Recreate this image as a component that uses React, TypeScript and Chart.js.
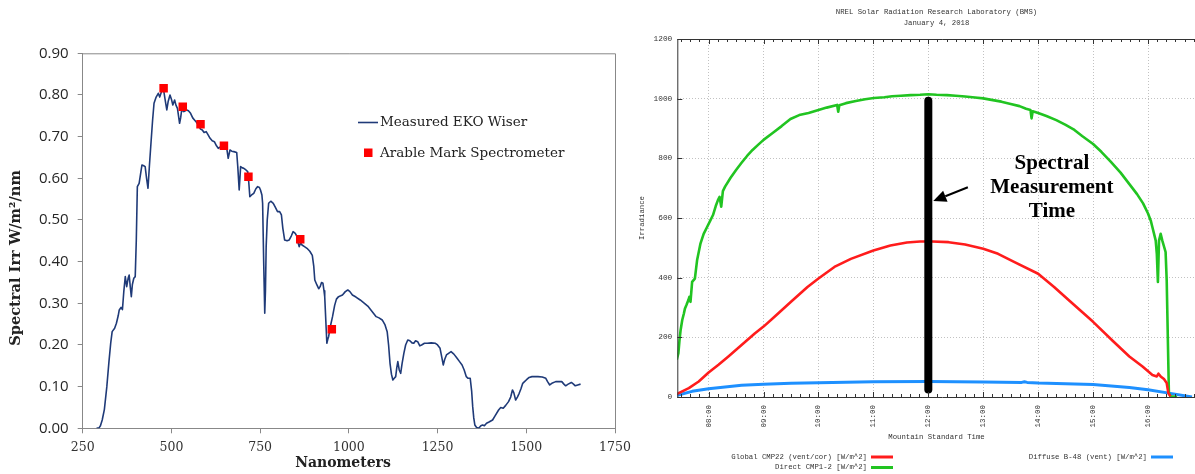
import React, { useEffect, useRef } from "react";
import { Chart, registerables } from "chart.js";

Chart.register(...registerables);

// ---------------- Left chart: spectral irradiance ----------------
const wiserNm = [
  289, 296, 300, 305, 311, 318, 324, 329, 333, 340, 345, 350, 353, 358, 362, 366, 370, 374, 378, 381,
  384, 387, 390, 394, 398, 401, 404, 409, 413, 417, 422, 426, 430, 434, 438, 443, 447, 451, 457, 463,
  467, 472, 478, 482, 487, 491, 496, 500, 504, 509, 513, 517, 520, 523, 526, 529, 535, 543, 548, 554,
  560, 565, 570, 576, 582, 587, 592, 598, 603, 609, 615, 621, 627, 632, 638, 643, 648, 652, 656, 660,
  665, 670, 676, 684, 687, 691, 695, 700, 704, 710, 715, 718, 721, 726, 732, 738, 743, 748, 751, 755,
  757, 760, 763, 765, 767, 770, 774, 780, 787, 793, 799, 805, 810, 814, 819, 826, 832, 838, 843, 849,
  854, 857, 860, 864, 868, 875, 882, 890, 897, 901, 904, 907, 910, 915, 919, 923, 927, 930, 932, 935,
  938, 941, 943, 948, 954, 960, 965, 971, 977, 982, 990, 997, 1003, 1010, 1020, 1032, 1044, 1055, 1066, 1077,
  1085, 1094, 1102, 1108, 1112, 1116, 1120, 1124, 1128, 1132, 1135, 1138, 1142, 1146, 1150, 1155, 1160, 1166, 1172, 1178,
  1183, 1188, 1194, 1200, 1205, 1213, 1221, 1232, 1244, 1250, 1257, 1262, 1266, 1270, 1275, 1281, 1288, 1296, 1305, 1312,
  1319, 1325, 1331, 1336, 1342, 1346, 1349, 1352, 1355, 1360, 1366, 1372, 1377, 1382, 1388, 1395, 1405, 1412, 1422, 1428,
  1435, 1442, 1450, 1456, 1461, 1465, 1470, 1475, 1480, 1485, 1490, 1495, 1500, 1508, 1516, 1525, 1533, 1545, 1555, 1560,
  1566, 1572, 1583, 1592, 1600, 1606, 1611, 1618, 1627, 1633, 1638, 1645, 1653,
];
const wiserIrr = [
  0, 0.001, 0.006, 0.02, 0.045, 0.1, 0.16, 0.205, 0.232, 0.24, 0.252, 0.27, 0.284, 0.29, 0.285, 0.33, 0.364, 0.34, 0.36, 0.368,
  0.34, 0.316, 0.345, 0.36, 0.364, 0.45, 0.58, 0.588, 0.61, 0.632, 0.63, 0.628, 0.6, 0.576, 0.63, 0.692, 0.74, 0.78, 0.795, 0.804,
  0.795, 0.808, 0.812, 0.79, 0.764, 0.785, 0.8, 0.79, 0.776, 0.788, 0.775, 0.768, 0.75, 0.732, 0.745, 0.764, 0.76, 0.764, 0.762, 0.756,
  0.745, 0.74, 0.735, 0.728, 0.718, 0.716, 0.71, 0.712, 0.705, 0.696, 0.69, 0.688, 0.678, 0.672, 0.675, 0.672, 0.678, 0.68, 0.672, 0.648,
  0.668, 0.665, 0.664, 0.662, 0.628, 0.572, 0.628, 0.625, 0.624, 0.62, 0.616, 0.59, 0.556, 0.56, 0.564, 0.575, 0.58, 0.578, 0.572, 0.56,
  0.54, 0.4, 0.276, 0.33, 0.436, 0.5, 0.54, 0.545, 0.54, 0.53, 0.52, 0.52, 0.512, 0.48, 0.452, 0.45, 0.452, 0.462, 0.472, 0.468,
  0.46, 0.445, 0.436, 0.445, 0.44, 0.436, 0.432, 0.425, 0.415, 0.39, 0.356, 0.35, 0.344, 0.335, 0.34, 0.35, 0.348, 0.33, 0.316, 0.26,
  0.204, 0.215, 0.22, 0.245, 0.268, 0.295, 0.31, 0.316, 0.318, 0.32, 0.328, 0.332, 0.328, 0.32, 0.315, 0.308, 0.3, 0.292, 0.28, 0.268,
  0.265, 0.26, 0.248, 0.232, 0.2, 0.156, 0.13, 0.116, 0.12, 0.124, 0.145, 0.16, 0.14, 0.132, 0.155, 0.18, 0.2, 0.212, 0.21, 0.205,
  0.204, 0.21, 0.208, 0.198, 0.2, 0.204, 0.204, 0.205, 0.204, 0.2, 0.192, 0.17, 0.152, 0.165, 0.176, 0.18, 0.184, 0.178, 0.168, 0.16,
  0.152, 0.14, 0.124, 0.12, 0.12, 0.09, 0.052, 0.025, 0.008, 0.002, 0, 0.006, 0.008, 0.006, 0.012, 0.015, 0.02, 0.03, 0.044, 0.05,
  0.048, 0.055, 0.064, 0.075, 0.092, 0.085, 0.068, 0.075, 0.084, 0.095, 0.108, 0.112, 0.116, 0.122, 0.124, 0.124, 0.124, 0.123, 0.12, 0.112,
  0.104, 0.108, 0.112, 0.112, 0.112, 0.106, 0.102, 0.106, 0.11, 0.106, 0.102, 0.104, 0.106,
];
const arableNm = [478, 532, 582, 648, 717, 863, 952];
const arableIrr = [0.816, 0.772, 0.73, 0.678, 0.604, 0.454, 0.238];
const nmTicks = [250, 500, 750, 1000, 1250, 1500, 1750];
const irrTicks = [0, 0.1, 0.2, 0.3, 0.4, 0.5, 0.6, 0.7, 0.8, 0.9];
const leftSeriesNames = ["Measured EKO Wiser", "Arable Mark Spectrometer"];
const leftXTitle = "Nanometers";
const leftYTitle = "Spectral Irr W/m\u00b2/nm";

// ---------------- Right chart: irradiance over the day ----------------
const directHours = [
  7.4, 7.42, 7.45, 7.47, 7.49, 7.52, 7.55, 7.57, 7.6, 7.63, 7.65, 7.67, 7.7, 7.75, 7.79, 7.85, 7.91, 7.97, 8.03, 8.08,
  8.13, 8.17, 8.2, 8.23, 8.26, 8.3, 8.4, 8.5, 8.6, 8.7, 8.8, 8.9, 9.0, 9.16, 9.33, 9.49, 9.65, 9.82, 10.0, 10.15,
  10.34, 10.36, 10.38, 10.5, 10.68, 10.85, 11.01, 11.2, 11.34, 11.5, 11.68, 11.85, 12.0, 12.15, 12.34, 12.5, 12.67, 12.85, 13.0, 13.15,
  13.33, 13.5, 13.66, 13.78, 13.86, 13.88, 13.9, 14.0, 14.15, 14.33, 14.5, 14.66, 14.8, 15.0, 15.15, 15.32, 15.5, 15.65, 15.8, 15.91,
  16.0, 16.05, 16.08, 16.11, 16.14, 16.16, 16.18, 16.2, 16.23, 16.26, 16.32, 16.34, 16.36, 16.38, 16.41, 16.53,
];
const directWm2 = [
  119, 125, 147, 190, 224, 258, 280, 297, 310, 324, 336, 319, 386, 397, 458, 513, 547, 569, 591, 610,
  640, 660, 671, 638, 690, 705, 735, 761, 785, 808, 828, 845, 862, 884, 908, 932, 945, 952, 962, 970,
  979, 956, 978, 985, 992, 998, 1002, 1005, 1008, 1010, 1012, 1013, 1015, 1013, 1012, 1010, 1007, 1004, 1001, 996,
  990, 982, 975, 966, 962, 934, 958, 952, 942, 928, 912, 895, 875, 848, 822, 789, 752, 716, 680, 649,
  615, 591, 569, 547, 524, 480, 386, 524, 547, 524, 486, 391, 202, 13, 2, 0,
];
const globalHours = [
  7.4, 7.43, 7.64, 7.82, 8.0, 8.18, 8.36, 8.6, 8.84, 9.0, 9.2, 9.5, 9.8, 10.0, 10.29, 10.59, 11.0, 11.31, 11.61, 11.85,
  12.07, 12.37, 12.67, 13.0, 13.27, 13.57, 14.0, 14.29, 14.59, 15.0, 15.37, 15.66, 15.9, 16.08, 16.16, 16.19, 16.23, 16.29, 16.34, 16.37,
  16.41,
];
const globalWm2 = [
  8, 11, 30, 52, 82, 108, 136, 174, 213, 236, 269, 319, 369, 397, 436, 463, 491, 508, 518, 521,
  521, 519, 511, 497, 480, 452, 413, 369, 319, 252, 186, 136, 102, 74, 69, 78, 69, 60, 47, 13,
  2,
];
const diffuseHours = [7.4, 7.43, 7.7, 8.0, 8.6, 9.0, 9.5, 10.0, 11.0, 12.0, 13.0, 13.7, 13.75, 13.8, 14.0, 15.0, 15.66, 16.0, 16.38, 16.8];
const diffuseWm2 = [5, 6, 19, 28, 39, 43, 46, 48, 51, 52, 50, 49, 51, 49, 47, 42, 32, 24, 13, 0];
const measurementHours = [12, 12];
const measurementWm2 = [25, 993];
const hourTicks = [8, 9, 10, 11, 12, 13, 14, 15, 16, 17];
const irradianceTicks = [0, 200, 400, 600, 800, 1000, 1200];
const rightSeriesNames = [
  "Global CMP22 (vent/cor) [W/m^2]",
  "Direct CMP1-2 [W/m^2]",
  "Diffuse B-48 (vent) [W/m^2]",
];
const rightTitle = ["NREL Solar Radiation Research Laboratory (BMS)", "January 4, 2018"];
const rightXTitle = "Mountain Standard Time";
const rightYTitle = "Irradiance";
const annotationLines = ["Spectral", "Measurement", "Time"];

const MONO = "'Liberation Mono', 'DejaVu Sans Mono', monospace";
const RED = "#ff1c1c";
const GREEN = "#21c421";
const BLUE = "#1e90ff";
const NAVY = "#1f3a78";
const AXIS_GRAY = "#888888";

function pairs(xs: number[], ys: number[]) {
  return xs.map((x, i) => ({ x, y: ys[i] }));
}

const leftDecor = {
  id: "leftDecor",
  afterDraw(chart: any) {
    const { ctx, chartArea: a } = chart;
    ctx.save();
    // frame top/right
    ctx.strokeStyle = AXIS_GRAY;
    ctx.lineWidth = 1;
    ctx.beginPath();
    ctx.moveTo(a.left, a.top + 0.5);
    ctx.lineTo(a.right + 0.5, a.top + 0.5);
    ctx.lineTo(a.right + 0.5, a.bottom);
    ctx.stroke();
    // legend
    ctx.strokeStyle = NAVY;
    ctx.lineWidth = 1.6;
    ctx.beginPath();
    ctx.moveTo(358, 122.5);
    ctx.lineTo(378, 122.5);
    ctx.stroke();
    ctx.fillStyle = "#ff0000";
    ctx.fillRect(364, 148.5, 8.5, 8.5);
    ctx.fillStyle = "#222";
    ctx.font = "13.5px 'DejaVu Serif'";
    ctx.textAlign = "left";
    ctx.textBaseline = "middle";
    ctx.fillText(leftSeriesNames[0], 380, 122);
    ctx.fillText(leftSeriesNames[1], 380, 153);
    // axis titles
    ctx.font = "bold 14px 'DejaVu Serif'";
    ctx.textAlign = "center";
    ctx.fillText(leftXTitle, 343, 463.5);
    ctx.font = "bold 14.6px 'DejaVu Serif'";
    ctx.translate(16, 258);
    ctx.rotate(-Math.PI / 2);
    ctx.fillText(leftYTitle, 0, 0);
    ctx.restore();
  },
};

function SpectrumChart() {
  const ref = useRef<HTMLCanvasElement>(null);
  useEffect(() => {
    const chart = new Chart(ref.current as HTMLCanvasElement, {
      type: "line",
      data: {
        datasets: [
          {
            label: leftSeriesNames[1],
            data: pairs(arableNm, arableIrr),
            showLine: false,
            pointStyle: "rect",
            pointRadius: 6,
            pointBorderWidth: 0,
            pointBackgroundColor: "#ff0000",
            borderColor: "#ff0000",
            backgroundColor: "#ff0000",
          },
          {
            label: leftSeriesNames[0],
            data: pairs(wiserNm, wiserIrr),
            borderColor: NAVY,
            borderWidth: 1.6,
            pointRadius: 0,
            tension: 0,
            borderJoinStyle: "round",
          },
        ],
      },
      options: {
        responsive: false,
        animation: false,
        events: [],
        layout: { padding: { left: 0, top: 53.3, right: 25, bottom: 0 } },
        plugins: { legend: { display: false }, tooltip: { enabled: false }, title: { display: false } },
        scales: {
          x: {
            type: "linear",
            min: 250,
            max: 1750,
            afterBuildTicks: (s: any) => {
              s.ticks = nmTicks.map((v) => ({ value: v }));
            },
            afterFit: (s: any) => {
              s.height = 45.7;
            },
            grid: { drawOnChartArea: false, drawTicks: true, tickLength: 5, tickColor: AXIS_GRAY, color: AXIS_GRAY },
            border: { color: AXIS_GRAY, width: 1 },
            ticks: {
              padding: 7,
              color: "#333",
              maxRotation: 0,
              autoSkip: false,
              font: { family: "DejaVu Serif", size: 12.5 },
              callback: (v: any) => String(v),
            },
          },
          y: {
            type: "linear",
            min: 0,
            max: 0.9,
            afterBuildTicks: (s: any) => {
              s.ticks = irrTicks.map((v) => ({ value: v }));
            },
            afterFit: (s: any) => {
              s.width = 82.7;
            },
            grid: { drawOnChartArea: false, drawTicks: true, tickLength: 5, tickColor: AXIS_GRAY, color: AXIS_GRAY },
            border: { color: AXIS_GRAY, width: 1 },
            ticks: {
              padding: 9,
              color: "#262626",
              font: { family: "Open Sans", size: 15 },
              callback: (v: any) => Number(v).toFixed(2),
            },
          },
        },
      },
      plugins: [leftDecor],
    } as any);
    return () => chart.destroy();
  }, []);
  return (
    <canvas
      ref={ref}
      width={640}
      height={474}
      style={{ position: "absolute", left: 0, top: 0, width: 640, height: 474 }}
    />
  );
}

const rightDecor = {
  id: "rightDecor",
  afterDatasetsDraw(chart: any) {
    const { ctx, chartArea: a, scales } = chart;
    const xs = scales.x;
    const ys = scales.y;
    ctx.save();
    // frame
    ctx.strokeStyle = "#333";
    ctx.lineWidth = 1;
    ctx.beginPath();
    ctx.moveTo(a.left + 0.5, a.bottom);
    ctx.lineTo(a.left + 0.5, a.top + 0.5);
    ctx.lineTo(a.right, a.top + 0.5);
    ctx.moveTo(a.left, a.bottom + 0.5);
    ctx.lineTo(a.right, a.bottom + 0.5);
    ctx.stroke();
    // inward ticks along time axis (every 10 minutes)
    const start = Math.ceil(xs.min * 6);
    const end = Math.floor(xs.max * 6);
    ctx.beginPath();
    for (let k = start; k <= end; k++) {
      const px = Math.round(xs.getPixelForValue(k / 6)) + 0.5;
      const len = k % 6 === 0 ? 5 : 3;
      ctx.moveTo(px, a.bottom);
      ctx.lineTo(px, a.bottom - len);
      ctx.moveTo(px, a.top);
      ctx.lineTo(px, a.top + len);
    }
    for (const v of irradianceTicks) {
      const py = Math.round(ys.getPixelForValue(v)) + 0.5;
      ctx.moveTo(a.left, py);
      ctx.lineTo(a.left + 5, py);
    }
    ctx.stroke();

    // arrow pointing at the measurement line
    const tailX = xs.getPixelForValue(12.72);
    const tailY = ys.getPixelForValue(703);
    const tipX = xs.getPixelForValue(12.09);
    const tipY = ys.getPixelForValue(657);
    const ang = Math.atan2(tipY - tailY, tipX - tailX);
    const headLen = 13;
    const headW = 6;
    const baseX = tipX - headLen * Math.cos(ang);
    const baseY = tipY - headLen * Math.sin(ang);
    ctx.strokeStyle = "#000";
    ctx.lineWidth = 2;
    ctx.beginPath();
    ctx.moveTo(tailX, tailY);
    ctx.lineTo(baseX, baseY);
    ctx.stroke();
    ctx.fillStyle = "#000";
    ctx.beginPath();
    ctx.moveTo(tipX, tipY);
    ctx.lineTo(baseX + headW * Math.sin(ang), baseY - headW * Math.cos(ang));
    ctx.lineTo(baseX - headW * Math.sin(ang), baseY + headW * Math.cos(ang));
    ctx.closePath();
    ctx.fill();

    // annotation text
    ctx.font = "bold 21px 'Liberation Serif'";
    ctx.textAlign = "center";
    ctx.textBaseline = "middle";
    const cx = xs.getPixelForValue(14.25);
    const lineVals = [781, 702, 623];
    annotationLines.forEach((t, i) => ctx.fillText(t, cx, ys.getPixelForValue(lineVals[i])));

    // titles
    ctx.fillStyle = "#333";
    ctx.font = `7.3px ${MONO}`;
    ctx.fillText(rightTitle[0], 316.5, 12.5);
    ctx.fillText(rightTitle[1], 316.5, 23.5);
    ctx.fillText(rightXTitle, 316.5, 437);
    ctx.save();
    ctx.translate(22, (a.top + a.bottom) / 2);
    ctx.rotate(-Math.PI / 2);
    ctx.fillText(rightYTitle, 0, 0);
    ctx.restore();

    // legend
    const colors = [RED, GREEN, BLUE];
    const spots = [
      { tx: 247, y: 457, lx: 251 },
      { tx: 247, y: 467.5, lx: 251 },
      { tx: 527, y: 457, lx: 531 },
    ];
    ctx.textAlign = "right";
    rightSeriesNames.forEach((name, i) => {
      const s = spots[i];
      ctx.fillStyle = "#333";
      ctx.fillText(name, s.tx, s.y);
      ctx.strokeStyle = colors[i];
      ctx.lineWidth = 3;
      ctx.beginPath();
      ctx.moveTo(s.lx, s.y);
      ctx.lineTo(s.lx + 22, s.y);
      ctx.stroke();
    });
    ctx.restore();
  },
};

function IrradianceChart() {
  const ref = useRef<HTMLCanvasElement>(null);
  useEffect(() => {
    const chart = new Chart(ref.current as HTMLCanvasElement, {
      type: "line",
      data: {
        datasets: [
          {
            label: "Spectral Measurement Time",
            data: pairs(measurementHours, measurementWm2),
            borderColor: "#000",
            borderWidth: 8,
            borderCapStyle: "round",
            pointRadius: 0,
            clip: 10,
          },
          {
            label: rightSeriesNames[0],
            data: pairs(globalHours, globalWm2),
            borderColor: RED,
            borderWidth: 2.6,
            pointRadius: 0,
            borderJoinStyle: "round",
          },
          {
            label: rightSeriesNames[1],
            data: pairs(directHours, directWm2),
            borderColor: GREEN,
            borderWidth: 2.6,
            pointRadius: 0,
            borderJoinStyle: "round",
          },
          {
            label: rightSeriesNames[2],
            data: pairs(diffuseHours, diffuseWm2),
            borderColor: BLUE,
            borderWidth: 3,
            pointRadius: 0,
            borderJoinStyle: "round",
          },
        ],
      },
      options: {
        responsive: false,
        animation: false,
        events: [],
        layout: { padding: { left: 0, top: 39, right: 5, bottom: 0 } },
        plugins: { legend: { display: false }, tooltip: { enabled: false }, title: { display: false } },
        scales: {
          x: {
            type: "linear",
            min: 7.43,
            max: 17.09,
            afterBuildTicks: (s: any) => {
              s.ticks = hourTicks.map((v) => ({ value: v }));
            },
            afterFit: (s: any) => {
              s.height = 77;
            },
            grid: { color: "#c2c2c2", lineWidth: 1, drawTicks: false },
            border: { display: false, dash: [1, 2] },
            ticks: {
              padding: 8,
              minRotation: 90,
              maxRotation: 90,
              autoSkip: false,
              color: "#333",
              font: { family: "Liberation Mono", size: 7.5 },
              callback: (v: any) => String(v).padStart(2, "0") + ":00",
            },
          },
          y: {
            type: "linear",
            min: 0,
            max: 1200,
            afterBuildTicks: (s: any) => {
              s.ticks = irradianceTicks.map((v) => ({ value: v }));
            },
            afterFit: (s: any) => {
              s.width = 57.3;
            },
            grid: { color: "#c2c2c2", lineWidth: 1, drawTicks: false },
            border: { display: false, dash: [1, 2] },
            ticks: {
              padding: 5,
              color: "#333",
              font: { family: "Liberation Mono", size: 7.8 },
              callback: (v: any) => String(v),
            },
          },
        },
      },
      plugins: [rightDecor],
    } as any);
    return () => chart.destroy();
  }, []);
  return (
    <canvas
      ref={ref}
      width={600}
      height={474}
      style={{ position: "absolute", left: 620, top: 0, width: 600, height: 474 }}
    />
  );
}

export default function App() {
  return (
    <div
      style={{
        position: "fixed",
        left: 0,
        top: 0,
        width: 1195,
        height: 474,
        overflow: "hidden",
        background: "#ffffff",
      }}
    >
      <SpectrumChart />
      <IrradianceChart />
    </div>
  );
}
